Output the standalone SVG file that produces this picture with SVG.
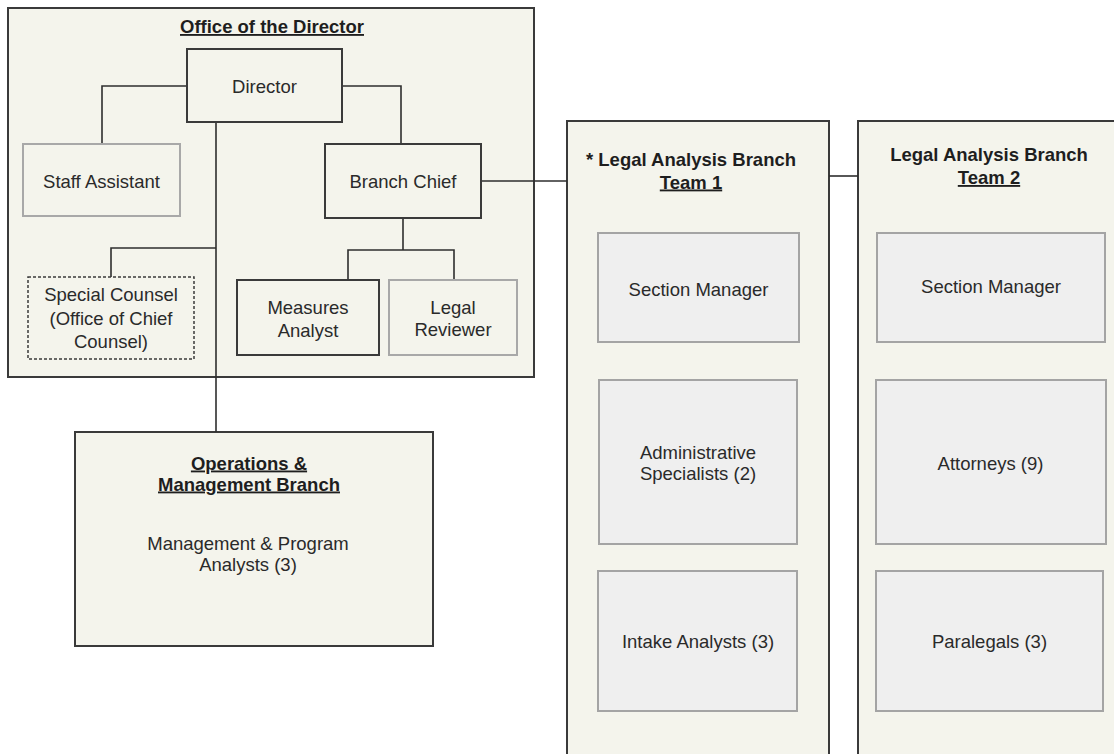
<svg xmlns="http://www.w3.org/2000/svg" width="1114" height="754" viewBox="0 0 1114 754">
<style>
.bg{fill:#ffffff}
.cont{fill:#f4f4ec;stroke:#3a3a3a;stroke-width:2}
.dark{fill:#f4f4ec;stroke:#3a3a3a;stroke-width:2}
.light{fill:#f4f4ec;stroke:#a8a8a8;stroke-width:2}
.dash{fill:#f4f4ec;stroke:#3a3a3a;stroke-width:1.5;stroke-dasharray:3,2}
.gray{fill:#efefef;stroke:#a4a4a4;stroke-width:2}
.conn{fill:none;stroke:#2e2e2e;stroke-width:1.6}
text{font-family:"Liberation Sans",Arial,sans-serif;font-size:18.5px;fill:#2a2a2a;text-anchor:middle}
.b{font-weight:bold;fill:#1e1e1e}
.u{text-decoration:underline}
</style>
<rect class="bg" x="0" y="0" width="1114" height="754"/>
<g id="office">
<rect class="cont" x="8" y="8" width="526" height="369"/>
<text class="b u" x="272" y="33">Office of the Director</text>
</g>
<g id="ops">
<rect class="cont" x="75" y="432" width="358" height="214"/>
<text class="b u" x="249" y="469.5">Operations &amp;</text>
<text class="b u" x="249" y="490.5">Management Branch</text>
<text x="248" y="550">Management &amp; Program</text>
<text x="248" y="571">Analysts (3)</text>
</g>
<g id="team1">
<rect class="cont" x="567" y="121" width="262" height="660"/>
<text class="b" x="691" y="165.5">* Legal Analysis Branch</text>
<text class="b u" x="691" y="188.5">Team 1</text>
</g>
<g id="team2">
<rect class="cont" x="858" y="121" width="280" height="660"/>
<text class="b" x="989" y="160.5">Legal Analysis Branch</text>
<text class="b u" x="989" y="184">Team 2</text>
</g>
<g id="connectors">
<polyline class="conn" points="187,86 102,86 102,144"/>
<polyline class="conn" points="342,86 401,86 401,144"/>
<line class="conn" x1="216" y1="122" x2="216" y2="432"/>
<polyline class="conn" points="216,248 111,248 111,277"/>
<line class="conn" x1="403" y1="218" x2="403" y2="250"/>
<polyline class="conn" points="348,280 348,250 454,250 454,280"/>
<line class="conn" x1="481" y1="181" x2="567" y2="181"/>
<line class="conn" x1="829" y1="176" x2="858" y2="176"/>
</g>
<g id="director">
<rect class="dark" x="187" y="49" width="155" height="73"/>
<text x="264.5" y="92.5">Director</text>
</g>
<g id="staff-assistant">
<rect class="light" x="23" y="144" width="157" height="72"/>
<text x="101.5" y="187.5">Staff Assistant</text>
</g>
<g id="branch-chief">
<rect class="dark" x="325" y="144" width="156" height="74"/>
<text x="403" y="187.5">Branch Chief</text>
</g>
<g id="special-counsel">
<rect class="dash" x="28" y="277" width="166" height="82"/>
<text x="111" y="301">Special Counsel</text>
<text x="111" y="324.5">(Office of Chief</text>
<text x="111" y="348">Counsel)</text>
</g>
<g id="measures-analyst">
<rect class="dark" x="237" y="280" width="142" height="75"/>
<text x="308" y="314">Measures</text>
<text x="308" y="337">Analyst</text>
</g>
<g id="legal-reviewer">
<rect class="light" x="389" y="280" width="128" height="75"/>
<text x="453" y="313.5">Legal</text>
<text x="453" y="336">Reviewer</text>
</g>
<g id="t1-section-manager">
<rect class="gray" x="598" y="233" width="201" height="109"/>
<text x="698.5" y="295.5">Section Manager</text>
</g>
<g id="t1-admin">
<rect class="gray" x="599" y="380" width="198" height="164"/>
<text x="698" y="458.5">Administrative</text>
<text x="698" y="480">Specialists (2)</text>
</g>
<g id="t1-intake">
<rect class="gray" x="598" y="571" width="199" height="140"/>
<text x="698" y="648">Intake Analysts (3)</text>
</g>
<g id="t2-section-manager">
<rect class="gray" x="877" y="233" width="228" height="109"/>
<text x="991" y="293">Section Manager</text>
</g>
<g id="t2-attorneys">
<rect class="gray" x="876" y="380" width="230" height="164"/>
<text x="990.5" y="469.5">Attorneys (9)</text>
</g>
<g id="t2-paralegals">
<rect class="gray" x="876" y="571" width="227" height="140"/>
<text x="989.5" y="648">Paralegals (3)</text>
</g>
</svg>
